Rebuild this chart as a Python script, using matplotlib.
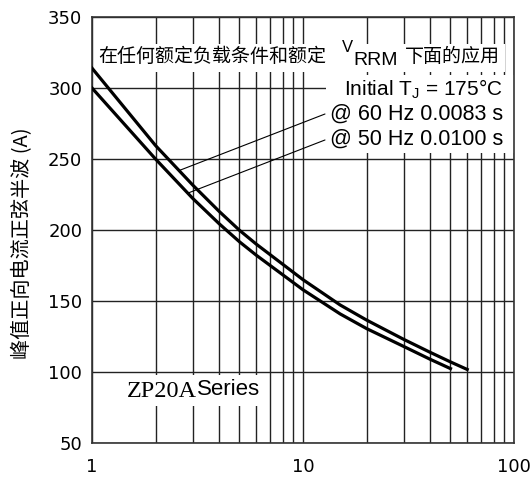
import numpy as np
import matplotlib
matplotlib.use("Agg")
import matplotlib.pyplot as plt
from matplotlib.patches import Rectangle
from matplotlib.ticker import LogLocator, NullFormatter

# surge current vs number of cycles
cycles_60hz = [1, 2, 3, 4, 5, 6, 10, 15, 20, 30, 40, 50, 60]
current_60hz = [314, 259.5, 231.7, 213.2, 199.8, 190.1, 165, 147.2, 136.6, 123, 113.9, 107.1, 101.8]

cycles_50hz = [1, 2, 3, 4, 5, 6, 10, 15, 20, 30, 40, 50]
current_50hz = [300, 250, 222.3, 204.5, 191.7, 182.3, 157.9, 140.9, 130.6, 118, 109, 102.4]

y_ticks = [50, 100, 150, 200, 250, 300, 350]
x_ticks = [1, 10, 100]
x_tick_labels = ["1", "10", "100"]

# leader line targets on the curves
leader_60hz = (2.6, 242)
leader_50hz = (2.85, 226)

plt.rcParams['mathtext.fontset'] = 'custom'
plt.rcParams['mathtext.rm'] = 'Liberation Sans'

fig = plt.figure(figsize=(5.32, 4.79), dpi=100)
ax = fig.add_axes([92 / 532, 1 - 443 / 479, 422 / 532, 426 / 479])

ax.plot(cycles_60hz, current_60hz, color='black', lw=2.3, zorder=3)
ax.plot(cycles_50hz, current_50hz, color='black', lw=2.3, zorder=3)

ax.set_xscale('log')
ax.set_xlim(1, 100)
ax.set_ylim(50, 350)
ax.set_xticks(x_ticks, labels=x_tick_labels)
ax.xaxis.set_minor_locator(LogLocator(base=10, subs=np.arange(2, 10)))
ax.xaxis.set_minor_formatter(NullFormatter())
ax.set_yticks(y_ticks)

ax.tick_params(which='both', length=0)
ax.tick_params(axis='x', pad=11, labelsize=13)
ax.tick_params(axis='y', pad=7, labelsize=13)

ax.grid(which='both', axis='x', color='#222222', lw=1.0)
ax.grid(which='major', axis='y', color='#222222', lw=1.0)
for s in ax.spines.values():
    s.set_color('#333333')
    s.set_linewidth(1.2)

ax.set_ylabel("峰值正向电流正弦半波 (A)", family=['Noto Sans CJK SC', 'DejaVu Sans'],
              fontsize=14.5)
ax.yaxis.set_label_coords(-0.14, 0.47)

# white boxes behind the notes
for (x0, y0, w, h) in [(0.007, 0.8716, 0.972, 0.065),
                       (0.5545, 0.6808, 0.4455, 0.183),
                       (0.0687, 0.0869, 0.339, 0.073)]:
    ax.add_patch(Rectangle((x0, y0), w, h, transform=ax.transAxes,
                           facecolor='white', edgecolor='none', zorder=1.8))

cjk = ['Noto Sans CJK SC', 'DejaVu Sans']
ax.text(0.0142, 0.9068, "在任何额定负载条件和额定", transform=ax.transAxes,
        ha='left', va='center', fontsize=13.7, family=cjk, zorder=4)
ax.text(0.5917, 0.918, "V", transform=ax.transAxes, ha='left', va='baseline',
        fontsize=12, family='Liberation Sans', zorder=4)
ax.text(0.6185, 0.8873, "RRM", transform=ax.transAxes, ha='left', va='baseline',
        fontsize=14, family='Liberation Sans', zorder=4)
ax.text(0.7417, 0.9068, "下面的应用", transform=ax.transAxes,
        ha='left', va='center', fontsize=13.7, family=cjk, zorder=4)

ax.text(0.974, 0.8303, r"Initial T$_\mathregular{J}$ = 175°C", transform=ax.transAxes,
        ha='right', va='center', fontsize=15, family='Liberation Sans', zorder=4)
ax.text(0.974, 0.7723, "@ 60 Hz 0.0083 s", transform=ax.transAxes,
        ha='right', va='center', fontsize=15.5, family='Liberation Sans', zorder=4)
ax.text(0.974, 0.7129, "@ 50 Hz 0.0100 s", transform=ax.transAxes,
        ha='right', va='center', fontsize=15.5, family='Liberation Sans', zorder=4)

ax.annotate("", xy=leader_60hz, xytext=(0.5521, 0.7723), textcoords='axes fraction',
            arrowprops=dict(arrowstyle='-', lw=0.8, color='black',
                            shrinkA=0, shrinkB=0), zorder=4)
ax.annotate("", xy=leader_50hz, xytext=(0.5521, 0.7113), textcoords='axes fraction',
            arrowprops=dict(arrowstyle='-', lw=0.8, color='black',
                            shrinkA=0, shrinkB=0), zorder=4)

ax.text(0.0836, 0.1073, "ZP20A", transform=ax.transAxes, ha='left', va='baseline',
        fontsize=17.5, family='Liberation Serif', zorder=4)
ax.text(0.2488, 0.1127, "Series", transform=ax.transAxes, ha='left', va='baseline',
        fontsize=16, family='Liberation Sans', zorder=4)

fig.savefig("out.png", dpi=100)
